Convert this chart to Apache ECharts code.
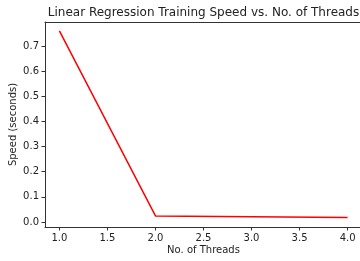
<!DOCTYPE html>
<html>
<head>
<meta charset="UTF-8">
<script src="https://cdn.jsdelivr.net/npm/echarts@6/dist/echarts.min.js"></script>
<style>
html, body { margin: 0; padding: 0; background: #fff; }
#main { width: 360px; height: 261px; }
</style>
</head>
<body>
<div id="main"></div>
<script>
// data
var threads = [1, 2, 3, 4];
var speed = [0.76, 0.024, 0.021, 0.018];
var xTicks = [1.0, 1.5, 2.0, 2.5, 3.0, 3.5, 4.0];
var yTicks = [0.0, 0.1, 0.2, 0.3, 0.4, 0.5, 0.6, 0.7];

var font = 'DejaVu Sans';
var spine = { show: true, onZero: false, lineStyle: { color: '#333', width: 1 } };
var myChart = echarts.init(document.getElementById('main'));

var option = {
    animation: false,
    grid: {
        left: 45, top: 22, width: 317, height: 205,
        containLabel: false, outerBoundsMode: 'none'
    },
    graphic: [{
        type: 'text', x: 203.5, y: 13,
        style: {
            text: 'Linear Regression Training Speed vs. No. of Threads',
            fontFamily: font, fontSize: 12, fill: '#222',
            textAlign: 'center', textVerticalAlign: 'middle'
        }
    }],
    xAxis: [{
        type: 'value', min: 0.85, max: 4.15,
        name: 'No. of Threads', nameLocation: 'middle', nameGap: 18, nameMoveOverlap: false,
        nameTextStyle: { fontFamily: font, fontSize: 10, color: '#222' },
        axisLine: spine,
        splitLine: { show: false },
        axisTick: { show: true, length: 3.5, customValues: xTicks, lineStyle: { color: '#333' } },
        axisLabel: {
            customValues: xTicks, margin: 6, fontFamily: font, fontSize: 10, color: '#222',
            formatter: function (v) { return v.toFixed(1); }
        }
    }, {
        // top spine only
        type: 'value', position: 'top', min: 0.85, max: 4.15,
        axisLine: spine, axisTick: { show: false }, axisLabel: { show: false },
        splitLine: { show: false }
    }],
    yAxis: {
        type: 'value', min: -0.02, max: 0.7955,
        name: 'Speed (seconds)', nameLocation: 'middle', nameGap: 27, nameMoveOverlap: false,
        nameTextStyle: { fontFamily: font, fontSize: 10, color: '#222' },
        axisLine: spine,
        splitLine: { show: false },
        axisTick: { show: true, length: 3.5, customValues: yTicks, lineStyle: { color: '#333' } },
        axisLabel: {
            customValues: yTicks, margin: 6, fontFamily: font, fontSize: 10, color: '#222',
            formatter: function (v) { return v.toFixed(1); }
        }
    },
    series: [{
        type: 'line',
        data: threads.map(function (t, i) { return [t, speed[i]]; }),
        showSymbol: false,
        lineStyle: { color: '#ff0000', width: 1.5 }
    }]
};

myChart.setOption(option);
</script>
</body>
</html>
